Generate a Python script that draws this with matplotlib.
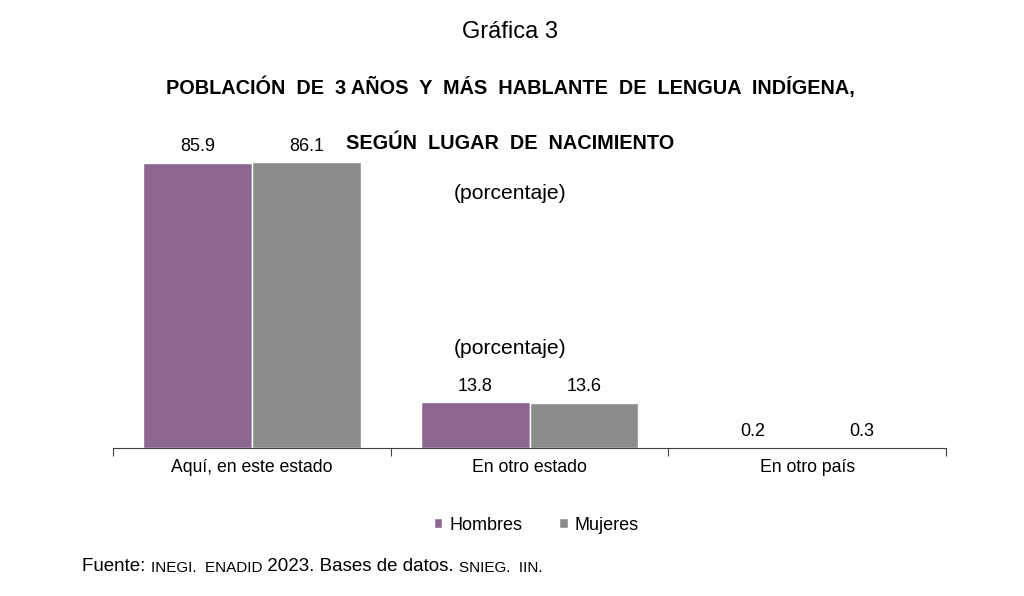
import matplotlib
matplotlib.use("Agg")
import matplotlib.pyplot as plt
from matplotlib.text import Annotation
import numpy as np

plt.rcParams["font.family"] = ["Liberation Sans", "DejaVu Sans"]

categorias = ["Aquí, en este estado", "En otro estado", "En otro país"]
hombres = [85.9, 13.8, 0.2]
mujeres = [86.1, 13.6, 0.3]
series = ["Hombres", "Mujeres"]
colores = ["#8c6891", "#8c8c8c"]

fig = plt.figure(figsize=(10.24, 5.96), dpi=100)
ax = fig.add_axes([0.1104, 0.2483, 0.8134, 0.584])

x = np.arange(len(categorias))
w = 0.392
for vals, off, lab, col in [(hombres, -w / 2, series[0], colores[0]),
                            (mujeres, w / 2, series[1], colores[1])]:
    bars = ax.bar(x + off, vals, width=w, color=col, edgecolor="white",
                  linewidth=1.0, label=lab)
    for b, v in zip(bars, vals):
        ax.annotate(f"{v:.1f}", (b.get_x() + b.get_width() / 2, v),
                    xytext=(0, 11.5), textcoords="offset points",
                    ha="center", va="center", fontsize=13)

ax.set_xlim(-0.5, 2.5)
ax.set_ylim(0, 104.8)
for s in ["top", "right", "left"]:
    ax.spines[s].set_visible(False)
ax.spines["bottom"].set_color("#404040")
ax.set_yticks([])
ax.set_xticks([-0.5, 0.5, 1.5, 2.5])
ax.set_xticklabels([])
ax.tick_params(axis="x", direction="out", length=6, color="#404040")
for xi, c in zip(x, categorias):
    ax.annotate(c, (xi, 0), xytext=(0, -14), textcoords="offset points",
                ha="center", va="center", fontsize=12.7)

fig.text(0.498, 0.946, "Gráfica 3", ha="center", va="center", fontsize=17)
fig.text(0.4985, 0.853,
         "POBLACIÓN  DE  3 AÑOS  Y  MÁS  HABLANTE  DE  LENGUA  INDÍGENA,",
         ha="center", va="center", fontsize=14.3, fontweight="bold")
fig.text(0.498, 0.760, "SEGÚN  LUGAR  DE  NACIMIENTO", ha="center",
         va="center", fontsize=14.3, fontweight="bold")
fig.text(0.498, 0.676, "(porcentaje)", ha="center", va="center", fontsize=15.2)
fig.text(0.498, 0.416, "(porcentaje)", ha="center", va="center", fontsize=15.2)

ax.legend(loc="center", bbox_to_anchor=(0.5084, -0.222), ncol=2, frameon=False,
          fontsize=13, handlelength=0.45, handleheight=0.45,
          columnspacing=2.05, handletextpad=0.4)

# fuente, con versalitas simuladas en letra menor
piezas = [("Fuente: ", 13.5), ("INEGI.  ENADID", 11), (" 2023. Bases de datos. ", 13.5),
          ("SNIEG.  IIN.", 11)]
prev = fig.text(0.08, 0.035, piezas[0][0], ha="left", va="bottom",
                fontsize=piezas[0][1])
for txt, fs in piezas[1:]:
    prev = fig.add_artist(Annotation(txt, xy=(1, 0), xycoords=prev,
                                     ha="left", va="bottom", fontsize=fs))

fig.savefig("out.png", dpi=100)
